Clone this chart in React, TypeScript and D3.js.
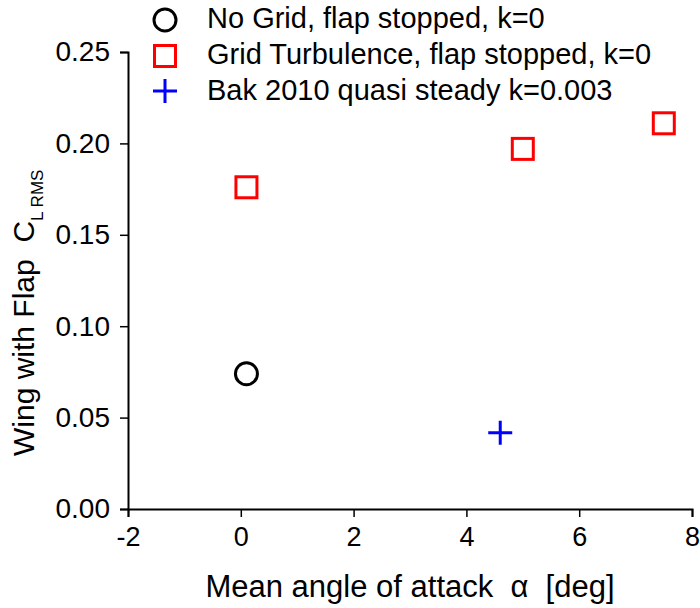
import * as d3 from "d3";
import React, { useEffect, useRef } from "react";

// Series: mean angle of attack [deg] and CL RMS
const noGridX = [0.1];
const noGridY = [0.074];
const gridX = [0.1, 5.0, 7.5];
const gridY = [0.176, 0.197, 0.211];
const bakX = [4.6];
const bakY = [0.0417];

const xTicks = [-2, 0, 2, 4, 6, 8];
const yTicks = [0, 0.05, 0.1, 0.15, 0.2, 0.25];

const legendLabels = [
  "No Grid, flap stopped, k=0",
  "Grid Turbulence, flap stopped, k=0",
  "Bak 2010 quasi steady k=0.003",
];

const App: React.FC = () => {
  const ref = useRef<SVGSVGElement>(null);

  useEffect(() => {
    const width = 700;
    const height = 608;
    const margin = { top: 52, right: 8, bottom: 99, left: 128 };
    const font = "'Liberation Sans', Arial, sans-serif";

    d3.select(ref.current).selectAll("*").remove();
    const svg = d3.select(ref.current)
      .attr("width", width)
      .attr("height", height)
      .style("font-family", font);

    const x = d3.scaleLinear().domain([-2, 8]).range([margin.left, width - margin.right]);
    const y = d3.scaleLinear().domain([0, 0.25]).range([height - margin.bottom, margin.top]);

    // x axis with minor ticks
    const xAxis = svg.append("g")
      .attr("transform", `translate(0,${height - margin.bottom})`);
    xAxis.call(
      d3.axisBottom(x).tickValues(d3.range(-2, 8.01, 1)).tickSize(5).tickFormat(() => "")
    );
    xAxis.call(
      d3.axisBottom(x).tickValues(xTicks).tickSize(8).tickPadding(10).tickFormat((d) => String(d))
    );
    xAxis.selectAll("path.domain").attr("stroke-width", 2);
    xAxis.selectAll("line").attr("stroke-width", 1.5);
    xAxis.selectAll("text").style("font-size", "27px").attr("fill", "#000");

    // y axis with minor ticks
    const yAxis = svg.append("g").attr("transform", `translate(${margin.left},0)`);
    yAxis.call(
      d3.axisLeft(y).tickValues(d3.range(0, 0.2501, 0.025)).tickSize(5).tickFormat(() => "")
    );
    yAxis.call(
      d3.axisLeft(y).tickValues(yTicks).tickSize(8).tickPadding(10).tickFormat(d3.format(".2f"))
    );
    yAxis.selectAll("path.domain").attr("stroke-width", 2);
    yAxis.selectAll("line").attr("stroke-width", 1.5);
    yAxis.selectAll("text").style("font-size", "28px").attr("fill", "#000");

    // x axis title
    svg.append("text")
      .attr("x", (margin.left + width - margin.right) / 2)
      .attr("y", 597)
      .attr("text-anchor", "middle")
      .style("font-size", "31px")
      .style("white-space", "pre")
      .text("Mean angle of attack  \u03b1  [deg]");

    // y axis title
    const yt = svg.append("text")
      .attr("transform", "translate(34,456) rotate(-90)")
      .style("font-size", "30px")
      .style("white-space", "pre");
    yt.append("tspan").text("Wing with Flap  C");
    yt.append("tspan").attr("dy", 9).style("font-size", "17px").text("L ");
    yt.append("tspan").style("font-size", "17px").text("RMS");

    // No grid: open circles
    svg.append("g").selectAll("circle")
      .data(noGridX.map((v, i) => [v, noGridY[i]]))
      .join("circle")
      .attr("cx", (d) => x(d[0]))
      .attr("cy", (d) => y(d[1]))
      .attr("r", 11)
      .attr("fill", "none")
      .attr("stroke", "#000")
      .attr("stroke-width", 3);

    // Grid turbulence: open squares
    svg.append("g").selectAll("rect")
      .data(gridX.map((v, i) => [v, gridY[i]]))
      .join("rect")
      .attr("x", (d) => x(d[0]) - 10.5)
      .attr("y", (d) => y(d[1]) - 10.5)
      .attr("width", 21)
      .attr("height", 21)
      .attr("fill", "none")
      .attr("stroke", "#ff0000")
      .attr("stroke-width", 3);

    // Bak: plus
    svg.append("g").selectAll("path")
      .data(bakX.map((v, i) => [v, bakY[i]]))
      .join("path")
      .attr("transform", (d) => `translate(${x(d[0])},${y(d[1])})`)
      .attr("d", "M-12,0H12M0,-12V12")
      .attr("stroke", "#0000ff")
      .attr("stroke-width", 3);

    // Legend
    const lg = svg.append("g");
    const lx = 165;
    const rows = [20, 56, 91];
    const baselines = [28, 64, 100];
    lg.append("circle").attr("cx", lx).attr("cy", rows[0]).attr("r", 11)
      .attr("fill", "none").attr("stroke", "#000").attr("stroke-width", 3);
    lg.append("rect").attr("x", lx - 10.5).attr("y", rows[1] - 10.5)
      .attr("width", 21).attr("height", 21)
      .attr("fill", "none").attr("stroke", "#ff0000").attr("stroke-width", 3);
    lg.append("path").attr("transform", `translate(${lx},${rows[2]})`)
      .attr("d", "M-12,0H12M0,-12V12")
      .attr("stroke", "#0000ff").attr("stroke-width", 3);
    lg.selectAll("text.leg")
      .data(legendLabels)
      .join("text")
      .attr("class", "leg")
      .attr("x", 207)
      .attr("y", (_, i) => baselines[i])
      .style("font-size", "29px")
      .text((d) => d);
  }, []);

  return <svg ref={ref} style={{ position: "absolute", left: 0, top: 0 }}></svg>;
};

export default App;
